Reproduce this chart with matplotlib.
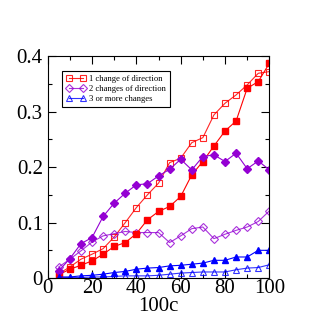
import matplotlib.pyplot as plt
import numpy as np
from matplotlib.ticker import MultipleLocator, FuncFormatter

plt.rcParams['font.family'] = ['Liberation Serif', 'DejaVu Serif']

c = np.arange(5, 101, 5)

one_open = [0.008, 0.020, 0.034, 0.043, 0.053, 0.074, 0.100, 0.127, 0.150, 0.171,
            0.208, 0.216, 0.244, 0.253, 0.294, 0.315, 0.330, 0.348, 0.369, 0.372]
one_fill = [0.006, 0.016, 0.023, 0.031, 0.043, 0.057, 0.064, 0.080, 0.105, 0.120,
            0.129, 0.147, 0.186, 0.210, 0.238, 0.265, 0.283, 0.342, 0.354, 0.387]
two_fill = [0.013, 0.035, 0.062, 0.073, 0.111, 0.135, 0.153, 0.168, 0.170, 0.184,
            0.196, 0.214, 0.195, 0.219, 0.222, 0.210, 0.225, 0.197, 0.211, 0.195]
two_open = [0.020, 0.034, 0.049, 0.065, 0.076, 0.080, 0.084, 0.082, 0.082, 0.082,
            0.064, 0.076, 0.089, 0.092, 0.071, 0.079, 0.086, 0.092, 0.102, 0.121]
three_fill = [0.002, 0.002, 0.004, 0.005, 0.007, 0.010, 0.012, 0.016, 0.018, 0.019,
              0.022, 0.023, 0.025, 0.027, 0.032, 0.032, 0.038, 0.038, 0.050, 0.050]
three_open = [0.001, 0.001, 0.001, 0.002, 0.002, 0.003, 0.004, 0.004, 0.004, 0.005,
              0.007, 0.009, 0.010, 0.011, 0.011, 0.011, 0.015, 0.018, 0.019, 0.024]

red = '#ff0000'
purple = '#9400d3'
blue = '#0000ff'

fig = plt.figure(figsize=(3.18, 3.26), dpi=100)
ax = fig.add_axes([0.150, 0.147, 0.697, 0.681])

ms = 4.2
lw = 0.8
ax.plot(c, one_open, color=red, lw=lw, marker='s', ms=ms, mfc='none', mew=0.8,
        label='1 change of direction', alpha=0.85)
ax.plot(c, two_open, color=purple, lw=lw, marker='D', ms=ms * 0.9, mfc='none', mew=0.8,
        label='2 changes of direction', alpha=0.8)
ax.plot(c, three_open, color=blue, lw=lw, marker='^', ms=ms + 0.5, mfc='none', mew=0.8,
        label='3 or more changes', alpha=0.8)
ax.plot(c, one_fill, color=red, lw=lw, marker='s', ms=ms)
ax.plot(c, two_fill, color=purple, lw=lw, marker='D', ms=ms * 0.9)
ax.plot(c, three_fill, color=blue, lw=lw, marker='^', ms=ms + 0.5)

ax.set_xlim(0, 100)
ax.set_ylim(0, 0.4)
ax.xaxis.set_major_locator(MultipleLocator(20))
ax.xaxis.set_minor_locator(MultipleLocator(10))
ax.yaxis.set_major_locator(MultipleLocator(0.1))
ax.yaxis.set_minor_locator(MultipleLocator(0.05))
ax.yaxis.set_major_formatter(FuncFormatter(lambda v, p: '0' if abs(v) < 1e-9 else f'{v:.1f}'))
ax.tick_params(which='both', direction='in', top=True, right=True, labelsize=15, width=0.8)
ax.tick_params(which='major', length=6)
ax.tick_params(which='minor', length=3)
ax.tick_params(axis='x', pad=1)
for s in ax.spines.values():
    s.set_linewidth(0.8)
ax.set_xlabel('100c', fontsize=15, labelpad=-1)

leg = ax.legend(loc='upper left', bbox_to_anchor=(0.066, 0.932), fontsize=6.2, numpoints=2,
                handlelength=2.3, handletextpad=0.4, borderpad=0.45, labelspacing=0.25,
                borderaxespad=0, fancybox=False, edgecolor='black', framealpha=1)
leg.get_frame().set_linewidth(0.8)

fig.savefig('out.png', dpi=100)
